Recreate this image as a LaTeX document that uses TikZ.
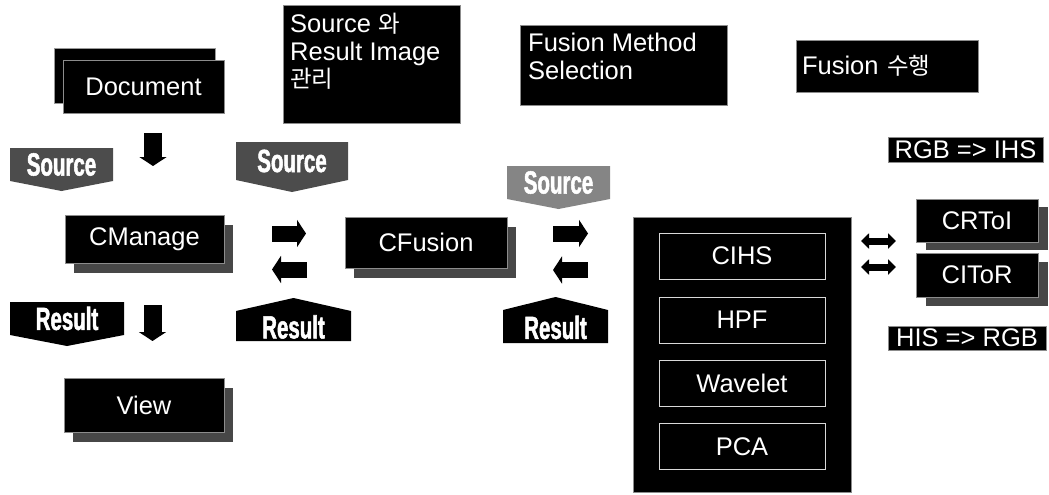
\documentclass[tikz,border=0pt]{standalone}
\usepackage{fontspec}
\setmainfont{Liberation Sans}
\newfontfamily\krfont[Scale=0.92]{Noto Sans CJK KR}
\newfontfamily\flagfont[FakeStretch=0.64,FakeBold=1.6]{Liberation Sans}
\usetikzlibrary{shadows,arrows.meta,calc}

\tikzset{
  blk/.style={fill=black, draw=black!45, line width=0.8pt, text=white,
    font=\fontsize{25.5}{28}\selectfont, inner sep=0pt},
  shd/.style={drop shadow={shadow xshift=9pt, shadow yshift=-10pt,
    fill=black!72, opacity=1}},
  inner/.style={draw=white!85!black, line width=0.8pt, text=white,
    font=\fontsize{25.5}{28}\selectfont, inner sep=0pt,
    minimum width=166pt, minimum height=46pt},
  note/.style={text=white, font=\fontsize{25.5}{27.5}\selectfont, inner sep=0pt,
    align=left, anchor=north west},
  flagtext/.style={text=white, font=\fontsize{32}{32}\flagfont\bfseries, inner sep=0pt},
  blockarrow/.style={line width=16pt, -{Triangle[width=27pt,length=9pt]}},
  slimarrow/.style={line width=7pt, {Triangle[width=15pt,length=8pt]}-{Triangle[width=15pt,length=8pt]}},
}

% banner pointing down: name, left, right, top, side bottom, tip, fill, text
\newcommand{\downflag}[8]{%
  \fill[#7] (#2,#4) -- (#3,#4) -- (#3,#5) -- ({(#2+#3)/2},#6) -- (#2,#5) -- cycle;
  \node[flagtext] (#1) at ({(#2+#3)/2},{(#4+#5)/2}) {#8};
}
% banner pointing up: name, left, right, tip, side top, bottom, fill, text
\newcommand{\upflag}[8]{%
  \fill[#7] (#2,#6) -- (#2,#5) -- ({(#2+#3)/2},#4) -- (#3,#5) -- (#3,#6) -- cycle;
  \node[flagtext] (#1) at ({(#2+#3)/2},{(#5+#6)/2+1}) {#8};
}

\begin{document}
\begin{tikzpicture}[x=1pt,y=-1pt]
\useasboundingbox (0,0) rectangle (1049,495);

% ---- headings along the top ----
\node[blk, minimum width=177pt, minimum height=118pt] (srcres) at (371.5,64) {};
\node[note] (srcrestext) at (290,13) {Source {\krfont 와}\\Result Image\\{\krfont 관리}};

\node[blk, minimum width=207pt, minimum height=80pt] (fms) at (623.5,65) {};
\node[note] (fmstext) at (528,33) {Fusion Method\\Selection};

\node[blk, minimum width=182pt, minimum height=52pt, align=left,
      text width=170pt] (fexec) at (887,66) {Fusion {\krfont 수행}};

% ---- document stack ----
\node[blk, minimum width=161pt, minimum height=55pt, draw=black!40] (docback) at (134.5,75.5) {};
\node[blk, minimum width=161pt, minimum height=53pt] (doc) at (143.5,86.5) {Document};

% ---- main classes ----
\node[blk, shd, minimum width=159pt, minimum height=48pt] (cmanage) at (144.5,239) {CManage};
\node[blk, shd, minimum width=160pt, minimum height=54pt] (view) at (144,405) {View};
\node[blk, shd, minimum width=162pt, minimum height=51pt] (cfusion) at (426,242.5) {CFusion};

% ---- fusion method container ----
\node[blk, minimum width=218pt, minimum height=275pt] (methods) at (742,354.5) {};
\node[inner] (cihs) at (742,256) {CIHS};
\node[inner] (hpf) at (742,320) {HPF};
\node[inner] (wavelet) at (742,383) {Wavelet};
\node[inner] (pca) at (742,446.5) {PCA};

% ---- colour conversion classes ----
\node[blk, minimum width=155pt, minimum height=25pt] (rgbihs) at (965.5,149.5) {RGB => IHS};
\node[blk, minimum width=122pt, minimum height=43pt,
      drop shadow={shadow xshift=10pt, shadow yshift=-8pt, fill=black!72, opacity=1}] (crtoi) at (977,220.5) {CRToI};
\node[blk, minimum width=122pt, minimum height=44pt,
      drop shadow={shadow xshift=10pt, shadow yshift=-9pt, fill=black!72, opacity=1}] (citor) at (977,275) {CIToR};
\node[blk, minimum width=158pt, minimum height=24pt] (hisrgb) at (967,338) {HIS => RGB};

% ---- banners ----
\downflag{srcA}{10}{113}{148}{181}{191}{black!70}{Source}
\downflag{srcB}{236}{348}{142}{180}{192}{black!70}{Source}
\downflag{srcC}{507}{610}{166}{199}{209}{black!48}{Source}
\downflag{resA}{10}{124}{302}{335}{346}{black}{Result}
\upflag{resB}{236}{351}{298}{311}{341}{black}{Result}
\upflag{resC}{503}{608}{297}{310}{343}{black}{Result}

% ---- arrow end points ----
\coordinate (d1a) at (153,133);   \coordinate (d1b) at (153,166);
\coordinate (d2a) at (152.5,305); \coordinate (d2b) at (152.5,341);
\coordinate (r1a) at (272,233.5); \coordinate (r1b) at (306,233.5);
\coordinate (l1a) at (307,269.5); \coordinate (l1b) at (272,269.5);
\coordinate (r2a) at (553,233.5); \coordinate (r2b) at (588,233.5);
\coordinate (l2a) at (588,270);   \coordinate (l2b) at (553,270);
\coordinate (x1a) at (861,241);   \coordinate (x1b) at (896,241);
\coordinate (x2a) at (861,267);   \coordinate (x2b) at (896,267);

\draw[blockarrow, line width=18pt] (d1a) -- (d1b);
\draw[blockarrow, line width=18pt] (d2a) -- (d2b);
\draw[blockarrow] (r1a) -- (r1b);
\draw[blockarrow] (l1a) -- (l1b);
\draw[blockarrow] (r2a) -- (r2b);
\draw[blockarrow] (l2a) -- (l2b);
\draw[slimarrow] (x1a) -- (x1b);
\draw[slimarrow] (x2a) -- (x2b);
\end{tikzpicture}
\end{document}
